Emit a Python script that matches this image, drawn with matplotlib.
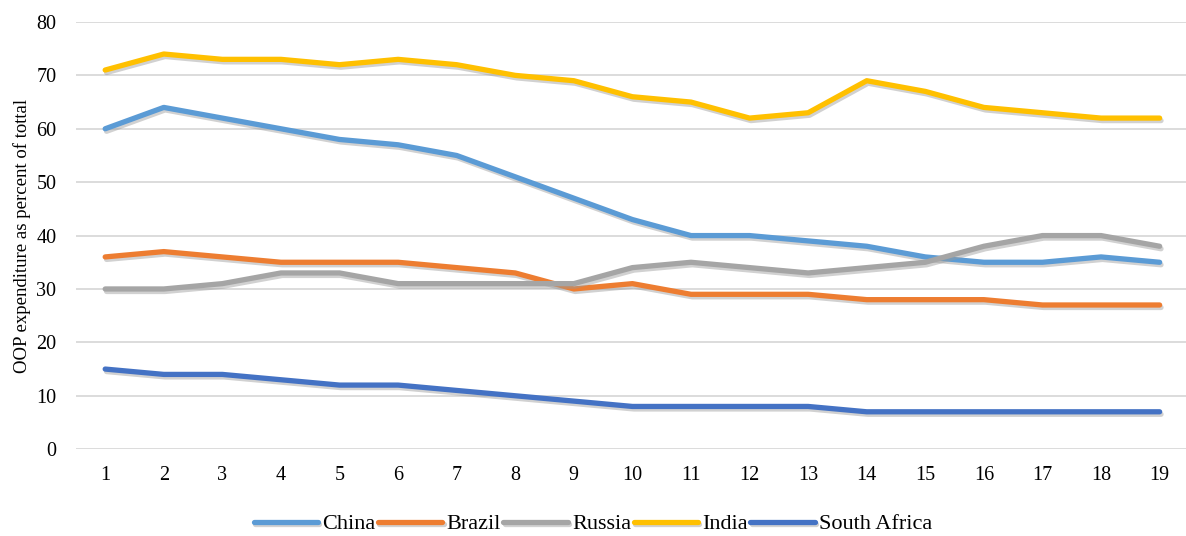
import matplotlib.pyplot as plt
import matplotlib.patheffects as pe

# dados
years = list(range(1, 20))
china = [60, 64, 62, 60, 58, 57, 55, 51, 47, 43, 40, 40, 39, 38, 36, 35, 35, 36, 35]
brazil = [36, 37, 36, 35, 35, 35, 34, 33, 30, 31, 29, 29, 29, 28, 28, 28, 27, 27, 27]
russia = [30, 30, 31, 33, 33, 31, 31, 31, 31, 34, 35, 34, 33, 34, 35, 38, 40, 40, 38]
india = [71, 74, 73, 73, 72, 73, 72, 70, 69, 66, 65, 62, 63, 69, 67, 64, 63, 62, 62]
south_africa = [15, 14, 14, 13, 12, 12, 11, 10, 9, 8, 8, 8, 8, 7, 7, 7, 7, 7, 7]

series = [
    ('China', china, '#5B9BD5'),
    ('Brazil', brazil, '#ED7D31'),
    ('Russia', russia, '#A5A5A5'),
    ('India', india, '#FFC000'),
    ('South Africa', south_africa, '#4472C4'),
]

plt.rcParams['font.family'] = ['Liberation Serif', 'DejaVu Serif']

fig = plt.figure(figsize=(11.86, 5.36), dpi=100)
ax = fig.add_axes([0.064, 0.162, 0.936, 0.797])

shadow = [pe.SimpleLineShadow(offset=(1, -1.8), shadow_color='#999999', alpha=0.45),
          pe.Normal()]
for name, vals, color in series:
    ax.plot(years, vals, color=color, linewidth=3.8, label=name,
            solid_capstyle='round', solid_joinstyle='round', path_effects=shadow)

ax.set_xlim(0.5, 19.45)
ax.set_ylim(0, 80)
ax.set_xticks(years)
ax.set_yticks(range(0, 81, 10))
ax.tick_params(axis='both', length=0, labelsize=14.5, pad=12)
ax.tick_params(axis='y', pad=14)
ax.grid(axis='y', color='#D9D9D9', linewidth=1.3)
ax.set_axisbelow(True)
for s in ax.spines.values():
    s.set_visible(False)
ax.set_ylabel('OOP expenditure as percent of tottal', fontsize=13.5, labelpad=4)

handles, labels = ax.get_legend_handles_labels()
fig.legend(handles, labels, loc='center', bbox_to_anchor=(0.5, 0.022), ncol=5,
           frameon=False, fontsize=16, handlelength=2.9, handletextpad=0.2,
           columnspacing=0.1)

fig.savefig('out.png', dpi=100)
